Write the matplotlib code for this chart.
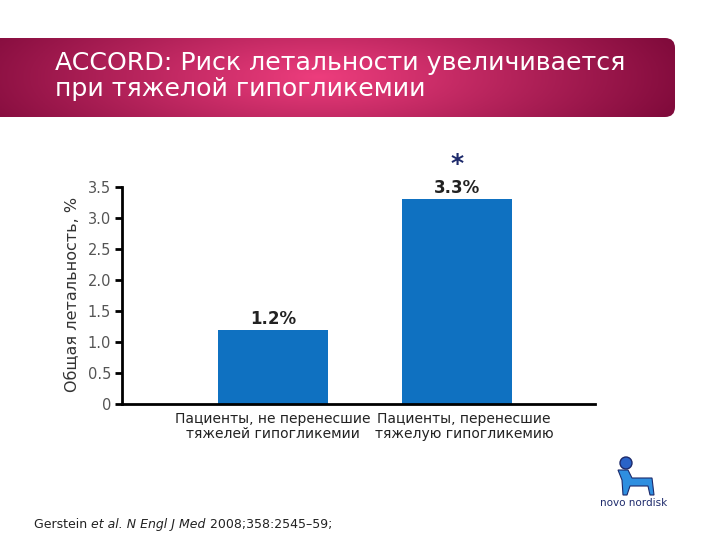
import numpy as np
import matplotlib
matplotlib.use("Agg")
import matplotlib.pyplot as plt
import matplotlib.transforms as mtransforms
from matplotlib.patches import FancyBboxPatch, Circle, Polygon

plt.rcParams['font.family'] = ['DejaVu Sans']

# ---- data ----
categories = ["Пациенты, не перенесшие\nтяжелей гипогликемии",
              "Пациенты, перенесшие\nтяжелую гипогликемию"]
values = [1.2, 3.3]
value_labels = ["1.2%", "3.3%"]
yticks = [0, 0.5, 1.0, 1.5, 2.0, 2.5, 3.0, 3.5]
ytick_labels = ["0", "0.5", "1.0", "1.5", "2.0", "2.5", "3.0", "3.5"]
title = "ACCORD: Риск летальности увеличивается\nпри тяжелой гипогликемии"
ylabel = "Общая летальность, %"

W, H = 720, 540
fig = plt.figure(figsize=(7.2, 5.4), dpi=100)
fig.patch.set_facecolor("white")

def fx(px):
    return px / W

def fy(py):
    return 1 - py / H

# ---- banner with gradient ----
bax = fig.add_axes([0, 0, 1, 1], zorder=0)
bax.set_xlim(0, W)
bax.set_ylim(H, 0)
bax.axis("off")
gx = np.linspace(0, 1, 400)
gy = np.linspace(0, 1, 60)
GX, GY = np.meshgrid(gx, gy)
d = np.sqrt(((GX - 0.48) / 0.55) ** 2 + ((GY - 0.5) / 1.4) ** 2)
d = np.clip(d, 0, 1)
c_center = np.array([0.93, 0.24, 0.49])
c_edge = np.array([0.50, 0.04, 0.23])
img = c_center[None, None, :] * (1 - d[..., None]) + c_edge[None, None, :] * d[..., None]
im = bax.imshow(img, extent=(-10, 675, 117, 37), aspect="auto", zorder=1)
patch = FancyBboxPatch((-30, 38), 705, 79, boxstyle="round,pad=0,rounding_size=10",
                       transform=bax.transData, facecolor="none", edgecolor="none")
bax.add_patch(patch)
im.set_clip_path(patch)
bax.text(55, 76, title, color="white", fontsize=18.2, va="center", ha="left",
         linespacing=1.15, zorder=3)

# ---- main axes ----
ax = fig.add_axes([fx(122), fy(404), fx(595) - fx(122), fy(187) - fy(404)], zorder=2)
ax.patch.set_alpha(0)
x = np.arange(len(categories))
ax.bar(x, values, width=0.6, color="#0f71c1", zorder=2)
ax.set_xlim(-0.82, 1.75)
ax.set_ylim(0, 3.5)
ax.set_yticks(yticks)
ax.set_yticklabels(ytick_labels)
ax.set_xticks(x)
ax.set_xticklabels(categories, fontsize=10, color="#222222", linespacing=1.1)
ax.tick_params(axis="x", length=0, pad=6)
ax.tick_params(axis="y", direction="out", length=5, width=2, color="black",
               labelsize=10.5, labelcolor="#555555", pad=3)
# shift second category label slightly right (as in reference)
lbls = ax.get_xticklabels()
lbls[1].set_transform(lbls[1].get_transform() +
                      mtransforms.ScaledTranslation(7 / 100, 0, fig.dpi_scale_trans))
for s in ["top", "right"]:
    ax.spines[s].set_visible(False)
for s in ["left", "bottom"]:
    ax.spines[s].set_linewidth(2)
    ax.spines[s].set_color("black")
ax.set_ylabel(ylabel, fontsize=11.5, color="#333333")
ax.yaxis.set_label_coords(-0.088, 0.505)

for xi, v, lab in zip(x, values, value_labels):
    ax.annotate(lab, (xi, v), xytext=(0, 1.5), textcoords="offset points",
                ha="center", va="bottom", fontsize=12, fontweight="bold",
                color="#222222")
ax.annotate("*", (x[1], values[1]), xytext=(0, 17), textcoords="offset points",
            ha="center", va="bottom", fontsize=18, fontweight="bold",
            color="#1d2a6b")

# ---- citation ----
t1 = fig.text(fx(34), fy(528), "Gerstein ", fontsize=9, color="#222222", va="baseline")
t2 = ax.annotate("et al. N Engl J Med", xy=(1, 0), xycoords=t1, fontsize=9,
                 style="italic", color="#222222", va="bottom", annotation_clip=False)
t3 = ax.annotate(" 2008;358:2545–59;", xy=(1, 0), xycoords=t2, fontsize=9,
                 color="#222222", va="bottom", annotation_clip=False)

# ---- logo (simplified) ----
bax.add_patch(Circle((626, 463), 6, facecolor="#2a63c8", edgecolor="#1d2a6b", lw=1, zorder=3))
bax.add_patch(Polygon([[618, 470], [628, 470], [632, 478], [652, 478], [654, 495],
                       [650, 495], [648, 486], [630, 486], [627, 495], [623, 495],
                       [622, 480]], closed=True, facecolor="#2f8fe0",
                      edgecolor="#1d2a6b", lw=0.8, zorder=3))
bax.text(634, 503, "novo nordisk", fontsize=7.5, color="#1d2a6b", ha="center",
         va="center", zorder=3)

fig.savefig("out.png", dpi=100)
